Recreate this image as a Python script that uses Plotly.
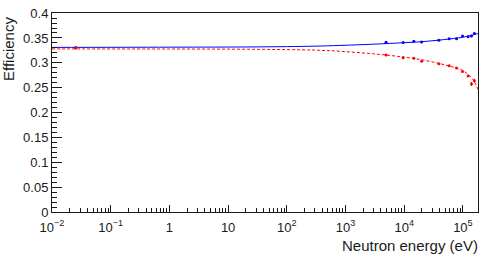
import numpy as np
import plotly.graph_objects as go

# data points
thermal_x = [0.0253]
thermal_blue = [0.3305]
thermal_red = [0.3305]
thermal_err = [0.003]

pts_x = [4900, 9600, 14600, 19800, 38900, 58300, 77800, 98400, 122500, 140000, 157000]
blue_y = [0.3414, 0.3408, 0.3434, 0.3421, 0.3453, 0.3486, 0.3486, 0.3537, 0.3524, 0.3537, 0.3589]
red_y = [0.3155, 0.3104, 0.3091, 0.3033, 0.2981, 0.2942, 0.2897, 0.2825, 0.2735, 0.2573, 0.2638]
blue_err = [0.0015, 0.0015, 0.0015, 0.0015, 0.0015, 0.0015, 0.0015, 0.002, 0.002, 0.002, 0.002]
red_err = [0.0015, 0.0015, 0.0015, 0.0015, 0.0015, 0.0015, 0.002, 0.002, 0.002, 0.004, 0.004]

# fit curves
fit_blue_x = [0.01, 1, 30, 300, 800, 3000, 1e4, 2e4, 4e4, 7e4, 1e5, 1.3e5, 1.6e5, 1.8e5]
fit_blue_y = [0.331, 0.3315, 0.332, 0.3335, 0.335, 0.3375, 0.3405, 0.3425, 0.3458, 0.349, 0.3515, 0.3545, 0.357, 0.359]
fit_red_x = [0.01, 1, 30, 300, 800, 3000, 1e4, 2e4, 4e4, 7e4, 1e5, 1.3e5, 1.5e5, 1.65e5, 1.8e5]
fit_red_y = [0.328, 0.3278, 0.3272, 0.3255, 0.3232, 0.318, 0.3115, 0.306, 0.2985, 0.291, 0.2845, 0.274, 0.2655, 0.2575, 0.2465]

x_tickvals = [1e-2, 1e-1, 1, 10, 1e2, 1e3, 1e4, 1e5]
x_ticktext = ["10<sup>−2</sup>", "10<sup>−1</sup>", "1", "10", "10<sup>2</sup>", "10<sup>3</sup>", "10<sup>4</sup>", "10<sup>5</sup>"]
y_tickvals = [0, 0.05, 0.1, 0.15, 0.2, 0.25, 0.3, 0.35, 0.4]
y_ticktext = ["0", "0.05", "0.1", "0.15", "0.2", "0.25", "0.3", "0.35", "0.4"]

x_minor = [m * 10.0 ** e for e in range(-2, 6) for m in range(2, 10)]

BLUE = "#0000ff"
RED = "#ff0000"
INK = "#1a1a1a"

fig = go.Figure()
fig.add_trace(go.Scatter(x=fit_blue_x, y=fit_blue_y, mode="lines", line=dict(color=BLUE, width=1), line_shape="spline"))
fig.add_trace(go.Scatter(x=fit_red_x, y=fit_red_y, mode="lines", line=dict(color=RED, width=1, dash="3px,2px"), line_shape="spline"))
fig.add_trace(go.Scatter(x=thermal_x + pts_x, y=thermal_blue + blue_y, mode="markers",
                         marker=dict(color=BLUE, size=3),
                         error_y=dict(type="data", array=thermal_err + blue_err, color=BLUE, thickness=1, width=0)))
fig.add_trace(go.Scatter(x=thermal_x + pts_x, y=thermal_red + red_y, mode="markers",
                         marker=dict(color=RED, size=3),
                         error_y=dict(type="data", array=thermal_err + red_err, color=RED, thickness=1, width=0)))

fig.update_layout(
    width=485, height=254,
    margin=dict(l=52, r=7, t=6, b=42),
    paper_bgcolor="white", plot_bgcolor="white",
    showlegend=False,
    font=dict(family="Liberation Sans, Arial, sans-serif", size=13, color=INK),
    xaxis=dict(type="log", range=[-2, 5.257], tickmode="array", tickvals=x_tickvals, ticktext=x_ticktext,
               ticks="inside", ticklen=7, tickcolor=INK, tickwidth=1, ticklabelstandoff=3,
               minor=dict(tickmode="array", tickvals=x_minor, ticks="inside", ticklen=4, tickcolor=INK, tickwidth=1, showgrid=False),
               showgrid=False, zeroline=False, showline=True, linecolor=INK, linewidth=1, mirror=True,
               tickfont=dict(size=13)),
    yaxis=dict(range=[0, 0.4002], tickmode="array", tickvals=y_tickvals, ticktext=y_ticktext,
               ticks="inside", ticklen=10, tickcolor=INK, tickwidth=1, ticklabeloverflow="allow",
               minor=dict(dtick=0.01, ticks="inside", ticklen=5, tickcolor=INK, tickwidth=1, showgrid=False),
               showgrid=False, zeroline=False, showline=True, linecolor=INK, linewidth=1, mirror=True,
               tickfont=dict(size=13)),
    annotations=[
        dict(text="Neutron energy (eV)", xref="paper", yref="paper", x=1.0, y=0, xanchor="right", yanchor="top",
             yshift=-23, xshift=2, showarrow=False, font=dict(size=15, color=INK)),
        dict(text="Efficiency", xref="paper", yref="paper", x=0, y=1.0, xanchor="center", yanchor="top",
             xshift=-44, yshift=-2, textangle=-90, showarrow=False, font=dict(size=15, color=INK)),
    ],
)

fig.write_html("out.html")
